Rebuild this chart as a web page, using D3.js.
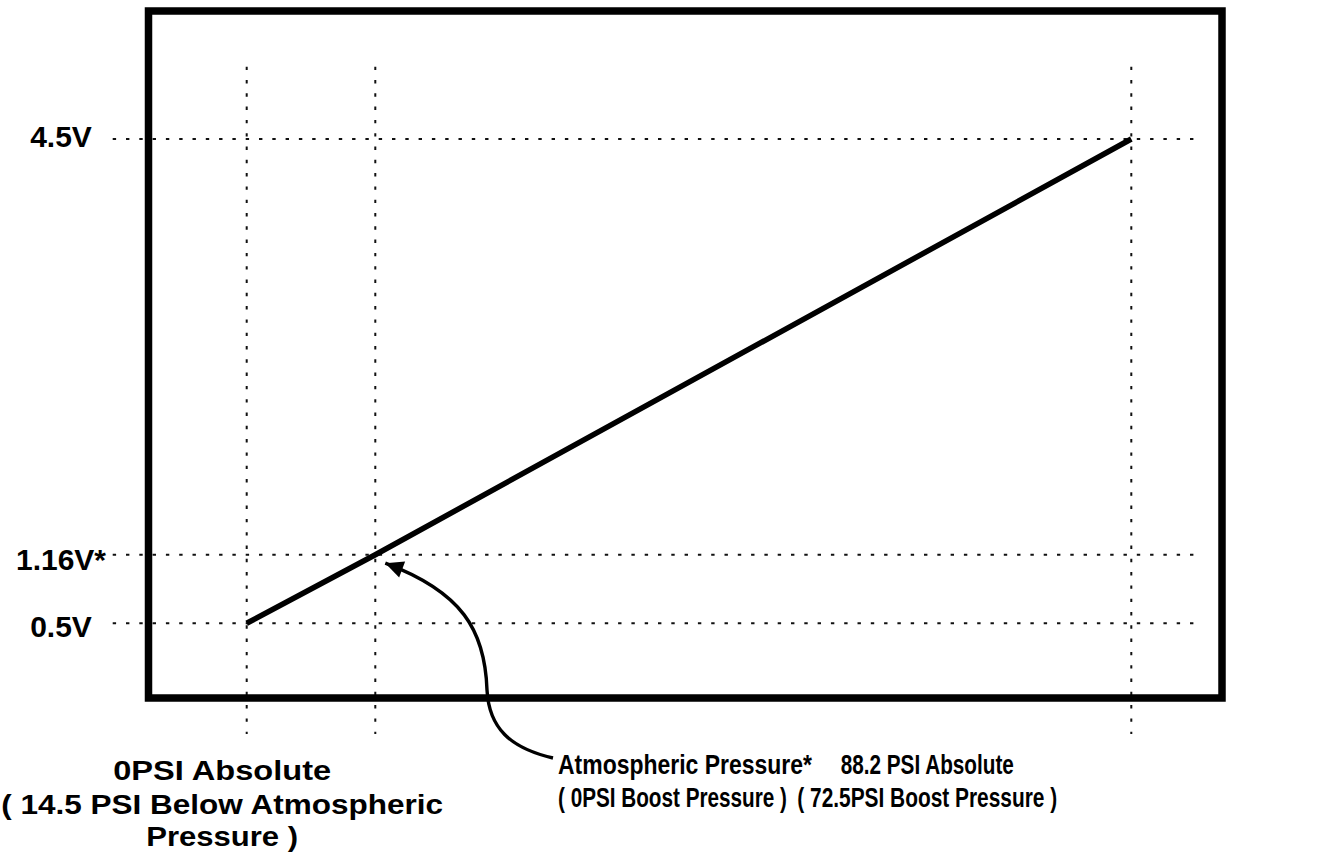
<!DOCTYPE html>
<html>
<head>
<meta charset="utf-8">
<script src="https://cdn.jsdelivr.net/npm/d3@7"></script>
<style>
  html, body { margin: 0; padding: 0; background: #fff; }
  svg { display: block; }
  text { font-family: "Liberation Sans", Arial, Helvetica, sans-serif; font-weight: bold; fill: #000; }
</style>
</head>
<body>
<svg id="chart" width="1332" height="856"></svg>
<script>
// ---- data ----
const pressureAbs = [0, 14.5, 88.2];          // PSI absolute
const voltage = [0.5, 1.16, 4.5];             // sensor output (V)
const yTickLabels = ["0.5V", "1.16V*", "4.5V"];
const xLabelLeft = ["0PSI Absolute", "( 14.5 PSI Below Atmospheric", "Pressure )"];
const xLabelMid = ["Atmospheric Pressure*", "( 0PSI Boost Pressure )"];
const xLabelRight = ["88.2 PSI Absolute", "( 72.5PSI Boost Pressure )"];

// ---- layout ----
const svg = d3.select("#chart");
const frame = { x0: 148.5, y0: 11, x1: 1222, y1: 698 };

// schematic (not-to-scale) piecewise linear scales
const x = d3.scaleLinear().domain(pressureAbs).range([246.7, 375.3, 1131.3]);
const y = d3.scaleLinear().domain(voltage).range([623.3, 554.7, 139]);

const gridStyle = { stroke: "#111", width: 2, dash: "3.4 9.9" };

// vertical dotted guides
svg.append("g").selectAll("line").data(pressureAbs).join("line")
  .attr("x1", d => x(d)).attr("x2", d => x(d))
  .attr("y1", 66.7).attr("y2", 734)
  .attr("stroke", gridStyle.stroke).attr("stroke-width", gridStyle.width)
  .attr("stroke-dasharray", gridStyle.dash);

// horizontal dotted guides
svg.append("g").selectAll("line").data(voltage).join("line")
  .attr("x1", 112.7).attr("x2", 1203)
  .attr("y1", d => y(d)).attr("y2", d => y(d))
  .attr("stroke", gridStyle.stroke).attr("stroke-width", gridStyle.width)
  .attr("stroke-dasharray", gridStyle.dash);

// frame
svg.append("rect")
  .attr("x", frame.x0).attr("y", frame.y0)
  .attr("width", frame.x1 - frame.x0).attr("height", frame.y1 - frame.y0)
  .attr("fill", "none").attr("stroke", "#000").attr("stroke-width", 7.5);

// transfer line
const pts = pressureAbs.map((p, i) => [p, voltage[i]]);
svg.append("path")
  .datum(pts)
  .attr("d", d3.line().x(d => x(d[0])).y(d => y(d[1])))
  .attr("fill", "none").attr("stroke", "#000").attr("stroke-width", 5.5)
  .attr("stroke-linecap", "butt");

// y labels
const yLabelDy = [14, 15, 8];
svg.append("g").selectAll("text").data(voltage).join("text")
  .attr("x", 61).attr("y", (d, i) => y(d) + yLabelDy[i])
  .attr("text-anchor", "middle")
  .style("font-size", "30px")
  .text((d, i) => yTickLabels[i]);

// arrow annotation
const defs = svg.append("defs");
defs.append("marker")
  .attr("id", "arrowhead")
  .attr("markerUnits", "userSpaceOnUse")
  .attr("viewBox", "-20 -10 22 20")
  .attr("refX", 0).attr("refY", 0)
  .attr("markerWidth", 22).attr("markerHeight", 20)
  .attr("orient", "auto")
  .append("path").attr("d", "M0,0 L-18,-8.5 L-18,8.5 Z").attr("fill", "#000");

const tip = [x(pressureAbs[1]) + 10, y(voltage[1]) + 8.5];
const arrowPath = d3.path();
arrowPath.moveTo(553, 758);
arrowPath.bezierCurveTo(510, 748, 489, 728, 487, 690);
arrowPath.bezierCurveTo(485, 630, 462, 592, tip[0], tip[1]);
svg.append("path")
  .attr("d", arrowPath.toString())
  .attr("fill", "none").attr("stroke", "#000").attr("stroke-width", 3.4)
  .attr("marker-end", "url(#arrowhead)");

// x annotations: each line is scaled horizontally to its measured width
function block(lines, anchor, xPos, baselines, widths, size) {
  const g = svg.append("g");
  g.selectAll("text").data(lines).join("text")
    .attr("x", 0).attr("y", 0)
    .attr("text-anchor", "start")
    .style("font-size", size + "px")
    .text(d => d)
    .each(function (d, i) {
      const natural = this.getComputedTextLength();
      const s = widths[i] / natural;
      const left = anchor === "middle" ? xPos - widths[i] / 2 : xPos;
      d3.select(this).attr("transform", `translate(${left},${baselines[i]}) scale(${s},1)`);
    });
}
block(xLabelLeft, "middle", x(pressureAbs[0]) - 24.5, [779.5, 813.5, 845.5], [218, 442, 152], 28.5);
block(xLabelMid, "start", 558, [773.5, 807], [254, 229], 28);
block(xLabelRight, "middle", x(pressureAbs[2]) - 204, [773.5, 807], [173.3, 260], 28);
</script>
</body>
</html>
